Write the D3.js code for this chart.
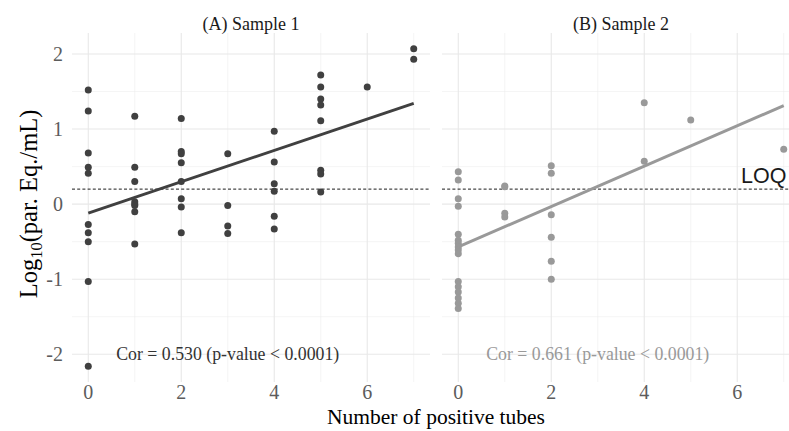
<!DOCTYPE html>
<html>
<head>
<meta charset="utf-8">
<script src="https://cdn.jsdelivr.net/npm/d3@7"></script>
<style>
  html, body { margin: 0; padding: 0; background: #fff; }
  svg { display: block; overflow: hidden; }
</style>
</head>
<body>
<svg id="chart" width="789" height="431"></svg>
<script>
// ---- data ----
const panelTitles = ["(A) Sample 1", "(B) Sample 2"];
const sample1X = [0,0,0,0,0,0,0,0,0,0, 1,1,1,1,1,1,1,1, 2,2,2,2,2,2,2,2, 3,3,3,3, 4,4,4,4,4,4, 5,5,5,5,5,5,5,5, 6, 7,7];
const sample1Y = [1.52,1.24,0.68,0.49,0.41,-0.27,-0.38,-0.50,-1.03,-2.16,
                  1.17,0.49,0.30,0.03,0.00,-0.02,-0.10,-0.53,
                  1.14,0.70,0.67,0.55,0.30,0.07,-0.04,-0.38,
                  0.67,-0.02,-0.29,-0.39,
                  0.97,0.56,0.27,0.17,-0.16,-0.33,
                  1.72,1.56,1.40,1.32,1.11,0.45,0.40,0.16,
                  1.56,
                  2.07,1.93];
const sample2X = [0,0,0,0,0,0,0,0,0,0,0,0,0,0,0,0, 1,1,1,1, 2,2,2,2,2,2, 4,4, 5, 7];
const sample2Y = [0.43,0.32,0.07,-0.03,-0.40,-0.48,-0.52,-0.57,-0.61,-0.66,-1.03,-1.10,-1.17,-1.25,-1.32,-1.39,
                  0.24,0.23,-0.12,-0.17,
                  0.51,0.41,-0.14,-0.44,-0.76,-1.00,
                  1.35,0.57,
                  1.12,
                  0.73];
const fitIntercept = [-0.12, -0.57];
const fitSlope = [0.209, 0.269];
const corLabels = ["Cor = 0.530 (p-value < 0.0001)", "Cor = 0.661 (p-value < 0.0001)"];
const loqValue = 0.2;
const loqLabel = "LOQ";
const xTicks = [0, 2, 4, 6];
const xMinor = [1, 3, 5, 7];
const yTicks = [-2, -1, 0, 1, 2];
const yMinor = [-1.5, -0.5, 0.5, 1.5];
const xTitle = "Number of positive tubes";

// ---- layout ----
const svg = d3.select("#chart");
const panelRanges = [[72, 430], [442, 800]];
const panelTop = 33, panelBottom = 382;
const colors = ["#404040", "#999999"];
const serif = "'Liberation Serif', 'Times New Roman', serif";

const y = d3.scaleLinear().domain([-2.37, 2.28]).range([panelBottom, panelTop]);
const samples = [
  {xs: sample1X, ys: sample1Y},
  {xs: sample2X, ys: sample2Y}
];

samples.forEach((s, i) => {
  const x = d3.scaleLinear().domain([-0.35, 7.35]).range(panelRanges[i]);
  const g = svg.append("g");
  const [x0, x1] = panelRanges[i];

  // minor grid
  g.selectAll(".vmin").data(xMinor).join("line")
    .attr("x1", d => x(d)).attr("x2", d => x(d)).attr("y1", panelTop).attr("y2", panelBottom)
    .attr("stroke", "#ececec").attr("stroke-width", 0.55);
  g.selectAll(".hmin").data(yMinor).join("line")
    .attr("x1", x0).attr("x2", x1).attr("y1", d => y(d)).attr("y2", d => y(d))
    .attr("stroke", "#ececec").attr("stroke-width", 0.55);
  // major grid
  g.selectAll(".vmaj").data(xTicks).join("line")
    .attr("x1", d => x(d)).attr("x2", d => x(d)).attr("y1", panelTop).attr("y2", panelBottom)
    .attr("stroke", "#e8e8e8").attr("stroke-width", 1.1);
  g.selectAll(".hmaj").data(yTicks).join("line")
    .attr("x1", x0).attr("x2", x1).attr("y1", d => y(d)).attr("y2", d => y(d))
    .attr("stroke", "#e8e8e8").attr("stroke-width", 1.1);

  // LOQ dashed line
  g.append("line")
    .attr("x1", x0).attr("x2", x1).attr("y1", y(loqValue)).attr("y2", y(loqValue))
    .attr("stroke", "#000").attr("stroke-width", 0.9).attr("stroke-dasharray", "3,2.2");

  // points
  const pts = s.xs.map((v, k) => [v, s.ys[k]]);
  g.selectAll(".pt").data(pts).join("circle")
    .attr("cx", d => x(d[0])).attr("cy", d => y(d[1])).attr("r", 3.5)
    .attr("fill", colors[i]);

  // regression line
  const line = d3.line().x(d => x(d)).y(d => y(fitIntercept[i] + fitSlope[i] * d));
  g.append("path").datum([0, 7]).attr("d", line)
    .attr("fill", "none").attr("stroke", colors[i]).attr("stroke-width", 3);

  // correlation text
  g.append("text").attr("x", x(3)).attr("y", y(-2)).attr("dy", "0.35em")
    .attr("text-anchor", "middle").attr("font-family", serif).attr("font-size", 17.8)
    .attr("fill", i === 0 ? "#333333" : "#999999").text(corLabels[i]);

  // strip title
  g.append("text").attr("x", (x0 + x1) / 2).attr("y", 30)
    .attr("text-anchor", "middle").attr("font-family", serif).attr("font-size", 18)
    .attr("fill", "#1a1a1a").text(panelTitles[i]);

  // x tick labels
  g.selectAll(".xt").data(xTicks).join("text")
    .attr("x", d => x(d)).attr("y", 399)
    .attr("text-anchor", "middle").attr("font-family", serif).attr("font-size", 20)
    .attr("fill", "#5c5c5c").text(d => d);

  if (i === 0) {
    g.selectAll(".yt").data(yTicks).join("text")
      .attr("x", 63).attr("y", d => y(d)).attr("dy", "0.35em")
      .attr("text-anchor", "end").attr("font-family", serif).attr("font-size", 20)
      .attr("fill", "#5c5c5c").text(d => d);
  } else {
    g.append("text").attr("x", x(6.57)).attr("y", y(0.39)).attr("dy", "0.36em")
      .attr("text-anchor", "middle").attr("font-family", "'Liberation Sans', Arial, sans-serif")
      .attr("font-size", 21.5).attr("fill", "#1a1a1a").text(loqLabel);
  }
});

// axis titles
svg.append("text").attr("x", 436).attr("y", 424)
  .attr("text-anchor", "middle").attr("font-family", serif).attr("font-size", 21.5)
  .attr("fill", "#000").text(xTitle);

const yt = svg.append("text")
  .attr("transform", `translate(37,204) rotate(-90)`)
  .attr("text-anchor", "middle").attr("font-family", serif).attr("font-size", 24.5)
  .attr("fill", "#000");
yt.append("tspan").text("Log");
yt.append("tspan").attr("font-size", 16.5).attr("dy", 5).text("10");
yt.append("tspan").attr("dy", -5).text("(par. Eq./mL)");
</script>
</body>
</html>
